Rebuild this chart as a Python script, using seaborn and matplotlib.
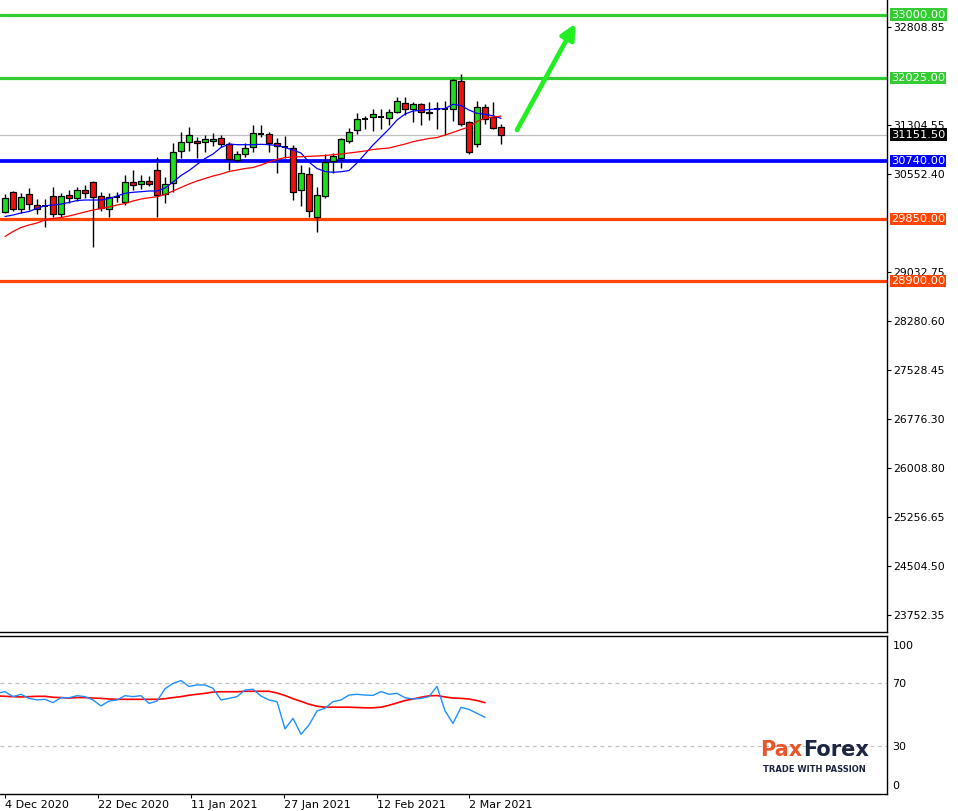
import numpy as np
import pandas as pd
import matplotlib
matplotlib.use('Agg')
from matplotlib import pyplot as plt
from matplotlib.transforms import blended_transform_factory
import seaborn as sns

# daily candles (US30), first bar = 4 Dec 2020
opens = [29955, 30263, 30001, 30232, 30062, 30058, 30201, 29924, 30216, 30170,
         30298, 30421, 30206, 30001, 30190, 30109, 30417, 30390, 30437, 30601,
         30236, 30410, 30894, 31033, 31057, 31033, 31057, 31094, 31011, 30760,
         30848, 30965, 31153, 31156, 31022, 30960, 30950, 30293, 30540, 29887,
         30210, 30749, 30795, 31057, 31222, 31386, 31418, 31422, 31402, 31494,
         31633, 31541, 31618, 31505, 31553, 31545, 31541, 31972, 31341, 31002,
         31573, 31418, 31264]
highs = [30237, 30283, 30252, 30329, 30159, 30155, 30344, 30247, 30298, 30344,
         30375, 30437, 30272, 30247, 30272, 30529, 30601, 30529, 30514, 30802,
         30503, 31026, 31196, 31264, 31119, 31140, 31171, 31145, 31037, 30903,
         31017, 31299, 31299, 31196, 31094, 31130, 30991, 30683, 30657, 30340,
         30852, 30863, 31103, 31248, 31479, 31438, 31550, 31550, 31550, 31735,
         31735, 31658, 31642, 31653, 31653, 31668, 32008, 32083, 31361, 31668,
         31617, 31648, 31314]
lows = [29940, 29975, 29948, 29990, 29924, 29724, 29887, 29887, 30093, 30133,
        30170, 29425, 29975, 29882, 30118, 30067, 30293, 30318, 30364, 29887,
        30093, 30272, 30786, 30899, 30786, 30888, 30980, 30960, 30606, 30729,
        30806, 30879, 31110, 30888, 30565, 30786, 30144, 30052, 29887, 29656,
        30175, 30555, 30641, 31026, 31156, 31233, 31207, 31233, 31299, 31491,
        31453, 31345, 31299, 31376, 31237, 31145, 31366, 31289, 30849, 30965,
        31309, 31237, 31002]
closes = [30170, 30001, 30186, 30082, 30005, 30047, 29924, 30201, 30170, 30293,
          30256, 30195, 30016, 30186, 30198, 30417, 30370, 30437, 30390, 30221,
          30386, 30883, 31033, 31140, 31017, 31079, 31079, 31002, 30771, 30848,
          30940, 31171, 31168, 31017, 30980, 30951, 30263, 30555, 29975, 30216,
          30725, 30822, 31083, 31187, 31391, 31396, 31468, 31433, 31499, 31668,
          31541, 31618, 31505, 31479, 31545, 31553, 31992, 31314, 30889, 31573,
          31391, 31258, 31151.5]

# moving averages
ma_fast = [29890, 29913, 29944, 29967, 30016, 30056, 30067, 30082, 30106, 30136,
           30144, 30144, 30144, 30167, 30206, 30247, 30263, 30272, 30283, 30283,
           30329, 30421, 30521, 30598, 30691, 30783, 30852, 30953, 31006, 30996,
           30996, 30996, 31002, 30996, 30983, 30953, 30914, 30868, 30729, 30629,
           30583, 30571, 30580, 30598, 30714, 30852, 30991, 31114, 31237, 31376,
           31468, 31515, 31525, 31538, 31545, 31553, 31618, 31599, 31530, 31479,
           31464, 31442, 31402]
ma_slow = [29582, 29659, 29720, 29759, 29790, 29836, 29859, 29874, 29898, 29928,
           29959, 29990, 30013, 30036, 30067, 30090, 30129, 30159, 30179, 30195,
           30229, 30283, 30337, 30390, 30437, 30475, 30514, 30544, 30583, 30606,
           30629, 30645, 30683, 30729, 30768, 30798, 30806, 30811, 30817, 30822,
           30829, 30842, 30852, 30868, 30883, 30899, 30922, 30934, 30945, 30976,
           31006, 31042, 31068, 31091, 31106, 31145, 31184, 31230, 31268, 31353,
           31407, 31422, 31437]

# oscillator panel (starts one bar left of the first candle)
osc_line = [63.6, 64.7, 61.5, 63.0, 60.4, 59.4, 59.8, 57.7, 60.8, 60.8, 62.1,
            61.5, 59.4, 55.6, 58.7, 59.4, 62.1, 61.5, 62.1, 57.2, 58.7,
            66.5, 69.9, 71.7, 68.0, 68.9, 68.9, 66.8, 59.4, 60.4, 61.5,
            65.7, 66.2, 61.9, 59.4, 58.3, 41.0, 47.7, 37.6, 43.5, 52.4,
            54.1, 58.3, 59.4, 62.5, 63.0, 62.5, 62.3, 64.7, 63.0, 63.6,
            60.8, 60.0, 60.4, 61.5, 68.0, 52.5, 44.5, 54.7, 53.4, 50.9, 48.4]
osc_signal = [62.0, 61.7, 61.5, 61.3, 61.5, 61.7, 61.7, 61.1, 60.9, 60.6, 60.9,
              60.9, 60.6, 60.4, 60.0, 59.8, 59.8, 59.8, 59.8, 59.8, 59.8,
              60.2, 60.9, 61.5, 62.4, 63.0, 63.6, 64.4, 64.6, 64.6, 64.6,
              64.9, 64.9, 64.9, 64.9, 63.8, 62.2, 60.2, 58.5, 56.7, 55.4,
              54.8, 54.8, 54.8, 54.8, 54.6, 54.4, 54.4, 54.8, 56.0, 57.5,
              59.0, 60.0, 61.1, 62.0, 62.2, 61.3, 60.6, 60.4, 60.0, 59.0, 57.7]

# price levels
levels = [33000.00, 32025.00, 30740.00, 29850.00, 28900.00]
level_colors = ['#33cc33', '#33cc33', '#0000ff', '#ff4500', '#ff4500']
last_price = 31151.50

price_ticks = [32808.85, 31304.55, 30552.40, 29032.75, 28280.60, 27528.45,
               26776.30, 26008.80, 25256.65, 24504.50, 23752.35]
date_pos = [0, 11.59, 23.21, 34.84, 46.46, 58.04]
date_labels = ['4 Dec 2020', '22 Dec 2020', '11 Jan 2021', '27 Jan 2021',
               '12 Feb 2021', '2 Mar 2021']

sns.set_style('white')
plt.rcParams['font.family'] = ['DejaVu Sans']

df = pd.DataFrame({'bar': np.arange(len(opens)), 'open': opens, 'high': highs,
                   'low': lows, 'close': closes, 'fast': ma_fast, 'slow': ma_slow})
osc = pd.DataFrame({'bar': np.arange(len(osc_line)) - 1, 'line': osc_line,
                    'signal': osc_signal})

fig = plt.figure(figsize=(9.58, 8.11), dpi=100)
ax = fig.add_axes([0, 1 - 632/811, 887/958, 632/811])
ax2 = fig.add_axes([0, 1 - 793.5/811, 887/958, (793.5 - 636)/811], sharex=ax)

xmin, xmax = -0.625, 110.25
ax.set_xlim(xmin, xmax)
ax.set_ylim(23490.5, 33224.7)

# levels
for lv, c in zip(levels, level_colors):
    ax.axhline(lv, color=c, lw=2.3 if c != '#0000ff' else 2.7, zorder=2)
ax.axhline(last_price, color='#c0c0c0', lw=0.9, zorder=1)

# candles
w = 0.65
for _, r in df.iterrows():
    ax.vlines(r['bar'], r['low'], r['high'], color='black', lw=1, zorder=3)
    body = abs(r['close'] - r['open'])
    if body < 20:
        ax.hlines((r['open'] + r['close']) / 2, r['bar'] - w/2, r['bar'] + w/2,
                  color='black', lw=1.4, zorder=4)
    else:
        col = '#19e019' if r['close'] > r['open'] else '#ee1111'
        ax.bar(r['bar'], body, bottom=min(r['open'], r['close']), width=w,
               color=col, edgecolor='black', linewidth=0.9, zorder=4)

sns.lineplot(data=df, x='bar', y='fast', ax=ax, color='#0000ff', lw=0.9, zorder=5)
sns.lineplot(data=df, x='bar', y='slow', ax=ax, color='#ff0000', lw=0.9, zorder=5)

# projection arrow
ax.annotate('', xy=(71.3, 32860), xytext=(64, 31222),
            arrowprops=dict(arrowstyle='-|>', color='#22ee22', lw=3.4,
                            mutation_scale=22, shrinkA=0, shrinkB=0), zorder=6)

ax.yaxis.tick_right()
ax.set_yticks(price_ticks)
ax.set_yticklabels(['%.2f' % t for t in price_ticks])
ax.tick_params(axis='y', right=True, length=3, width=0.8, pad=1.5,
               labelsize=7.8, colors='black')
ax.tick_params(axis='x', bottom=False, labelbottom=False)
ax.set_xlabel('')
ax.set_ylabel('')
for s in ['left', 'top']:
    ax.spines[s].set_visible(False)
for s in ['right', 'bottom']:
    ax.spines[s].set_color('black')
    ax.spines[s].set_linewidth(1)

trans = blended_transform_factory(ax.transAxes, ax.transData)
box_items = list(zip(levels, level_colors)) + [(last_price, '#000000')]
for lv, c in box_items:
    ax.text(1.0045, lv, '%.2f' % lv, transform=trans, ha='left', va='center',
            color='white', fontsize=8.2, clip_on=False, zorder=10,
            bbox=dict(boxstyle='square,pad=0.1', fc=c, ec='none'))

# oscillator panel
ax2.set_ylim(0, 100)
ax2.axhline(70, color='#c0c0c0', lw=0.9, ls=(0, (3, 3)))
ax2.axhline(30, color='#c0c0c0', lw=0.9, ls=(0, (3, 3)))
sns.lineplot(data=osc, x='bar', y='signal', ax=ax2, color='#ff0000', lw=1.2)
sns.lineplot(data=osc, x='bar', y='line', ax=ax2, color='#1e90ff', lw=1.0)
ax2.yaxis.tick_right()
ax2.set_yticks([94, 70, 30, 5.5])
ax2.set_yticklabels(['100', '70', '30', '0'])
ax2.tick_params(axis='y', right=True, length=0, pad=4, labelsize=8, colors='black')
ax2.set_xticks(date_pos)
ax2.set_xticklabels(date_labels, ha='left')
ax2.tick_params(axis='x', bottom=True, length=3, width=0.8, pad=1.5,
                labelsize=8, colors='black')
ax2.set_xlabel('')
ax2.set_ylabel('')
ax2.spines['left'].set_visible(False)
for s in ['right', 'bottom', 'top']:
    ax2.spines[s].set_color('black')
    ax2.spines[s].set_linewidth(1)
ax2.set_xlim(xmin, xmax)

# logo
fig.text(802/958, 1 - 750/811, 'Pax', color='#e8562a', fontsize=15,
         fontweight='bold', ha='right', va='center')
fig.text(803/958, 1 - 750/811, 'Forex', color='#1c2541', fontsize=15,
         fontweight='bold', ha='left', va='center')
fig.text(814/958, 1 - 770/811, 'TRADE WITH PASSION', color='#1c2541',
         fontsize=6.0, fontweight='bold', ha='center', va='center')

fig.savefig('out.png', dpi=100)
